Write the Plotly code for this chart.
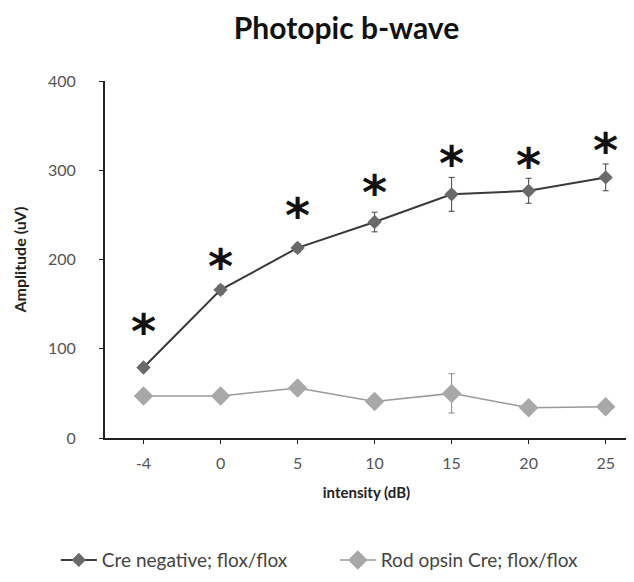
import plotly.graph_objects as go

categories = ["-4", "0", "5", "10", "15", "20", "25"]
cre_negative = [79, 166, 213, 242, 273, 277, 292]
cre_negative_err = [3, 5, 5, 11, 19, 14, 15]
rod_opsin = [47, 47, 56, 41, 50, 34, 35]
rod_opsin_err = [4, 4, 4, 4, 22, 3, 3]
significance_y = [114, 187, 244, 270, 302, 300, 317]
y_ticks = [0, 100, 200, 300, 400]

FONT = "Lato, Open Sans, sans-serif"

fig = go.Figure()

fig.add_trace(go.Scatter(
    x=categories, y=cre_negative, name="Cre negative; flox/flox",
    mode="lines+markers",
    line=dict(color="#3a3a3a", width=2),
    marker=dict(symbol="diamond", size=11, color="#6a6a6a"),
    error_y=dict(type="data", array=cre_negative_err, color="#444444", thickness=1, width=3),
))
fig.add_trace(go.Scatter(
    x=categories, y=rod_opsin, name="Rod opsin Cre; flox/flox",
    mode="lines+markers",
    line=dict(color="#9a9a9a", width=1.5),
    marker=dict(symbol="diamond", size=15, color="#a8a8a8"),
    error_y=dict(type="data", array=rod_opsin_err, color="#888888", thickness=1, width=3),
))
fig.add_trace(go.Scatter(
    x=categories, y=significance_y, mode="text", text=["<b>*</b>"] * len(categories),
    textfont=dict(family="DejaVu Sans", size=48, color="#111111"),
    textposition="middle center", showlegend=False, hoverinfo="skip",
))

fig.update_layout(
    width=634, height=582,
    margin=dict(l=97, r=14, t=73, b=152, autoexpand=False),
    paper_bgcolor="white", plot_bgcolor="white",
    title=dict(text="<b>Photopic b-wave</b>", x=0.534, xanchor="center", y=0.965, yanchor="middle",
               font=dict(family=FONT, size=30, color="#111111")),
    font=dict(family=FONT, size=15, color="#333333"),
    xaxis=dict(
        type="category", range=[-0.5, 6.29],
        showline=True, linecolor="#222222", linewidth=2,
        ticks="outside", ticklen=4, tickcolor="#222222",
        showgrid=False, zeroline=False,
        ticklabelstandoff=6,
        title=dict(text="<b>intensity (dB)</b>", font=dict(size=15, color="#222222"), standoff=16),
        tickfont=dict(size=16, color="#555555"),
    ),
    yaxis=dict(
        range=[0, 400], tickvals=y_ticks,
        showline=True, linecolor="#222222", linewidth=2,
        ticks="outside", ticklen=4, tickcolor="#222222",
        showgrid=False, zeroline=False,
        ticklabelstandoff=20,
        title=dict(text="<b>Amplitude (uV)</b>", font=dict(size=16, color="#222222"), standoff=17),
        tickfont=dict(size=16, color="#555555"),
    ),
    legend=dict(orientation="h", x=-0.094, xanchor="left", y=-0.342, yanchor="middle",
                font=dict(size=19, color="#444444"), itemwidth=36, tracegroupgap=0,
                entrywidth=228, entrywidthmode="pixels"),
)

fig.write_html("out.html")
